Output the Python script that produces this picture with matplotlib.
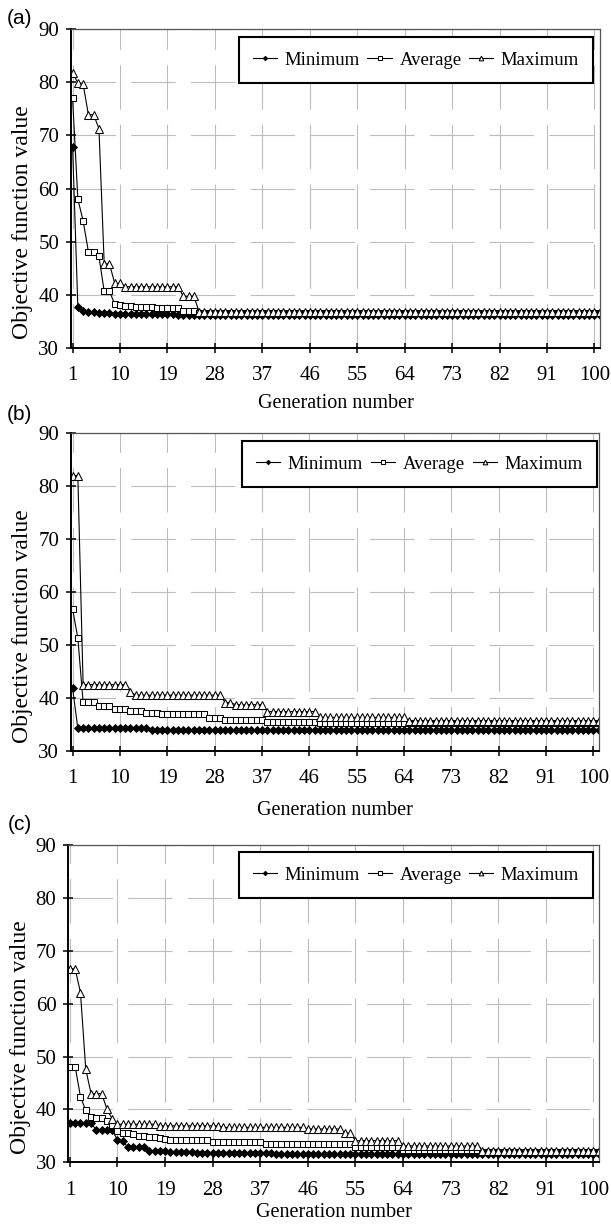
import matplotlib
matplotlib.use("Agg")
import matplotlib.pyplot as plt

plt.rcParams['font.family'] = ['Liberation Serif', 'DejaVu Serif']
plt.rcParams['lines.scale_dashes'] = False

# ---------------- data ----------------
generations = list(range(1, 102))
x_tick_values = [1, 10, 19, 28, 37, 46, 55, 64, 73, 82, 91, 100]
y_tick_values = [30, 40, 50, 60, 70, 80, 90]
series_names = ["Minimum", "Average", "Maximum"]
panel_labels = ["(a)", "(b)", "(c)"]

# panel (a)
min_a = [67.9, 37.7, 36.9, 36.8, 36.8, 36.6, 36.6, 36.6, 36.4, 36.4, 36.4, 36.4] + [36.3] * 8 + [36.2] * 81
avg_a = [77.0, 58.0, 53.9, 48.1, 48.1, 47.2, 40.6, 40.6, 38.2, 38.0, 37.9, 37.8, 37.7, 37.7,
         37.6, 37.6, 37.5, 37.5, 37.5, 37.4, 37.4] + [36.9] * 3 + [36.5] * 77
max_a = [81.8, 79.9, 79.7, 73.9, 73.9, 71.3, 45.8, 45.8, 42.1, 42.1] + [41.5] * 11 + [39.7] * 3 + [36.8] * 77

# panel (b)
min_b = [41.8] + [34.2] * 14 + [33.9] * 86
avg_b = ([56.8, 51.3] + [39.2] * 3 + [38.5] * 3 + [37.8] * 3 + [37.5] * 3 + [37.1] * 3
         + [36.9] * 9 + [36.1] * 3 + [35.8] * 8 + [35.5] * 10 + [35.2] * 54)
max_b = ([82.0, 82.0] + [42.5] * 9 + [41.1] + [40.5] * 17 + [39.1] * 2 + [38.7] * 6
         + [37.4] * 10 + [36.3] * 17 + [35.6] * 37)

# panel (c)
min_c = [37.4] * 5 + [36.1] * 4 + [34.2, 34.0] + [32.8] * 4 + [32.1] * 4 + [31.9] * 5 + [31.7] * 15 + [31.6] * 62
avg_c = ([48.1, 48.1, 42.4, 39.8, 38.6, 38.3, 38.3, 37.8, 37.1, 35.9, 35.6, 35.5, 35.3, 35.0, 35.0,
          34.7, 34.7, 34.55, 34.4] + [34.2] * 8 + [33.9] * 10 + [33.4] * 17 + [32.8] * 9
         + [32.4] * 15 + [32.0] * 23)
max_c = ([66.6, 66.6, 62.1, 47.6, 43.0, 43.0, 43.0, 40.1, 38.2] + [37.2] * 8 + [36.9] * 12
         + [36.6] * 16 + [36.3] * 7 + [35.5] * 2 + [34.1] * 9 + [33.1] * 15 + [32.2] * 23)

panels = [(min_a, avg_a, max_a), (min_b, avg_b, max_b), (min_c, avg_c, max_c)]

# ---------------- layout ----------------
W, H = 611, 1232
fig = plt.figure(figsize=(W / 100, H / 100), dpi=100)

# pixel boxes: left, right, top, bottom
boxes = [(71, 600, 29.3, 347.7), (71, 599, 433.3, 750.7), (68.3, 599, 845, 1162.3)]
legend_boxes = [(239, 593, 36, 84), (242, 597, 440, 488), (239, 593, 851, 899)]
xlabel_y = [-0.174, -0.187, -0.157]
label_pos = [(19, 19), (19.5, 414), (19.5, 825)]

styles = [
    dict(marker='D', markersize=3.8, markerfacecolor='black', markeredgecolor='black', markeredgewidth=0.6),
    dict(marker='s', markersize=5.0, markerfacecolor='white', markeredgecolor='black', markeredgewidth=0.75),
    dict(marker='^', markersize=5.6, markerfacecolor='white', markeredgecolor='black', markeredgewidth=0.75),
]

for i, (series, (l, r, t, b)) in enumerate(zip(panels, boxes)):
    ax = fig.add_axes([l / W, 1 - b / H, (r - l) / W, (b - t) / H])
    for name, vals, st in zip(series_names, series, styles):
        ax.plot(generations, vals, color='black', linewidth=0.8, label=name, **st)
    ax.set_xlim(0.7, 101.05)
    ax.set_ylim(30, 90)
    ax.set_xticks(x_tick_values)
    ax.set_xticklabels([str(v) for v in x_tick_values])
    ax.set_yticks(y_tick_values)
    ax.grid(True, color='#bdbdbd', linewidth=0.8, linestyle=(0, (32, 11)))
    ax.set_axisbelow(True)
    for s in ['left', 'bottom']:
        ax.spines[s].set_linewidth(1.4)
        ax.spines[s].set_color('black')
    for s in ['top', 'right']:
        ax.spines[s].set_linewidth(0.9)
        ax.spines[s].set_color('#555555')
    ax.tick_params(axis='x', direction='inout', length=7, width=1.1, pad=10, labelsize=15)
    ax.tick_params(axis='y', direction='inout', length=7, width=1.1, pad=5, labelsize=15)
    ax.set_xlabel("Generation number", fontsize=14.5)
    ax.xaxis.set_label_coords(0.5, xlabel_y[i])
    ax.xaxis.label.set_verticalalignment('center')
    ax.set_ylabel("Objective function value", fontsize=17)
    ax.yaxis.set_label_coords(-0.091, 0.393)
    ax.yaxis.label.set_verticalalignment('center')

    ll, lr, lt, lb = legend_boxes[i]
    bx0 = (ll - l) / (r - l)
    bw = (lr - ll) / (r - l)
    by0 = 1 - (lb - t) / (b - t)
    bh = (lb - lt) / (b - t)
    leg = ax.legend(loc='center', bbox_to_anchor=(bx0, by0, bw, bh), mode='expand', ncol=3,
                    fontsize=13.5, frameon=True, fancybox=False, edgecolor='black',
                    handlelength=1.3, handletextpad=0.4, borderpad=0.75, markerscale=0.6,
                    borderaxespad=0)
    leg.get_frame().set_linewidth(1.5)
    leg.get_frame().set_facecolor('white')
    leg.get_frame().set_alpha(1.0)

    px, py = label_pos[i]
    fig.text(px / W, 1 - py / H, panel_labels[i], fontsize=15, ha='center', va='center',
             family=['Liberation Sans', 'DejaVu Sans'])

fig.savefig("out.png", dpi=100, facecolor='white')
